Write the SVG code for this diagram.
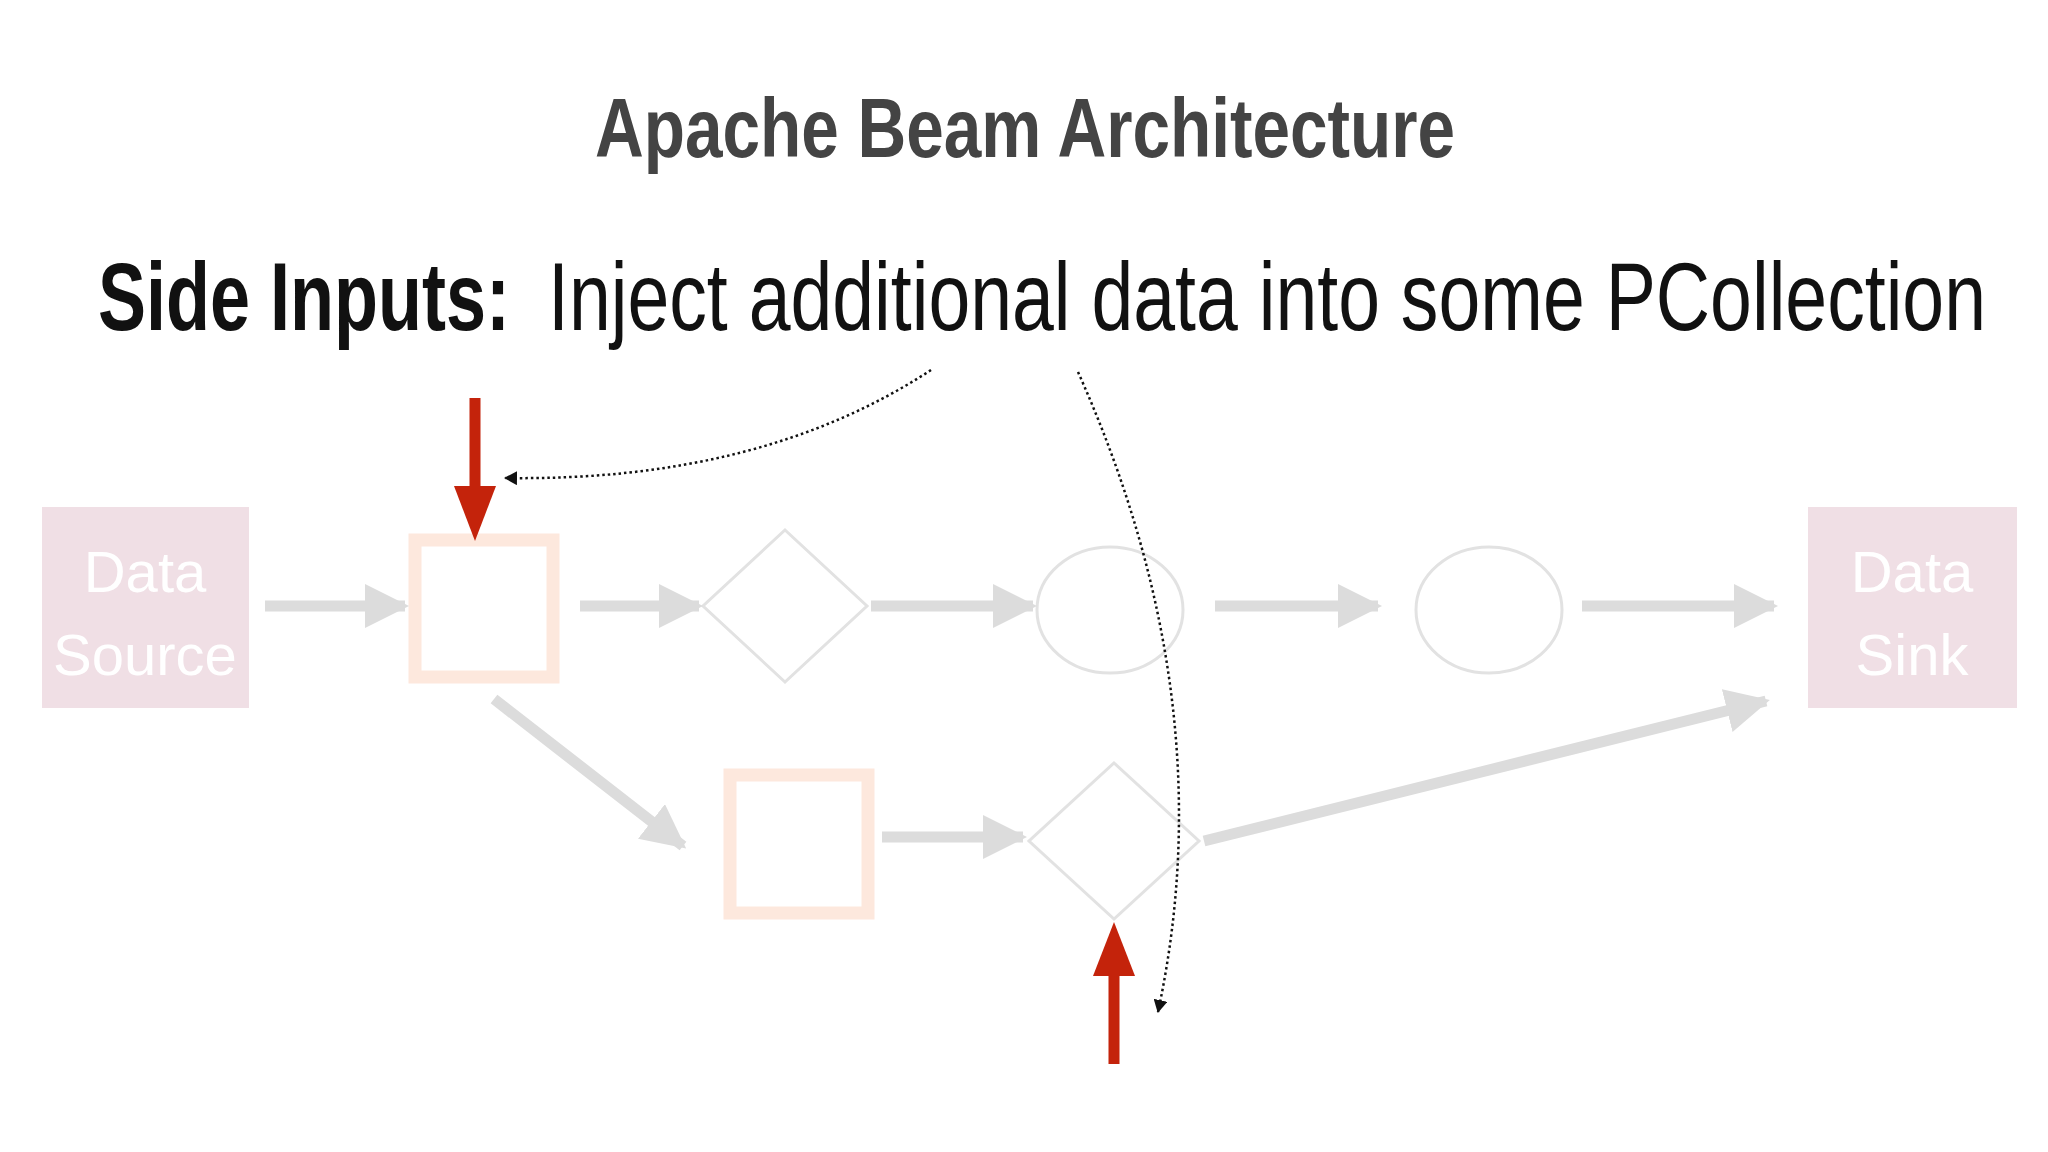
<svg xmlns="http://www.w3.org/2000/svg" width="2048" height="1152" viewBox="0 0 2048 1152">
<style>
.g{stroke:#dcdcdc;stroke-width:11;fill:none}
.sq{fill:#fff;stroke:#fde8dd;stroke-width:13}
.sh{fill:#fff;stroke:#e2e2e2;stroke-width:3}
.src{fill:#f0dfe5}
.lbl{font-family:"Liberation Sans Narrow","Liberation Sans",sans-serif;font-size:58px;fill:#fff;text-anchor:middle}
.dot{stroke:#111;stroke-width:2.5;stroke-dasharray:2.5 3;fill:none}
.red{stroke:#c4230b;stroke-width:11}
</style>
<defs>
<marker id="ga" markerUnits="userSpaceOnUse" markerWidth="46" markerHeight="44" refX="40" refY="22" orient="auto"><path d="M0,0 L44,22 L0,44 Z" fill="#dcdcdc"/></marker>
<marker id="ba" markerUnits="userSpaceOnUse" markerWidth="14" markerHeight="14" refX="12" refY="7" orient="auto"><path d="M0,0 L13,7 L0,14 Z" fill="#111"/></marker>
</defs>
<rect width="2048" height="1152" fill="#fff"/>
<text x="1025" y="157" font-family="Liberation Sans Narrow, Liberation Sans, sans-serif" font-weight="bold" font-size="84" fill="#444" text-anchor="middle" textLength="860" lengthAdjust="spacingAndGlyphs">Apache Beam Architecture</text>
<text x="98" y="330" font-family="Liberation Sans Narrow, Liberation Sans, sans-serif" font-size="96" font-weight="bold" fill="#111" textLength="412" lengthAdjust="spacingAndGlyphs">Side Inputs:</text>
<text x="548" y="330" font-family="Liberation Sans Narrow, Liberation Sans, sans-serif" font-size="96" fill="#111" textLength="1438" lengthAdjust="spacingAndGlyphs">Inject additional data into some PCollection</text>
<g id="source"><rect class="src" x="42" y="507" width="207" height="201"/><text class="lbl" x="145" y="592">Data</text><text class="lbl" x="145" y="675">Source</text></g>
<g id="sink"><rect class="src" x="1808" y="507" width="209" height="201"/><text class="lbl" x="1912" y="592">Data</text><text class="lbl" x="1912" y="675">Sink</text></g>
<g id="sq1"><rect class="sq" x="415" y="540" width="138" height="137"/></g>
<g id="d1"><polygon class="sh" points="785,530 867,606 785,682 703,606"/></g>
<g id="e1"><ellipse class="sh" cx="1110" cy="610" rx="73" ry="63"/></g>
<g id="e2"><ellipse class="sh" cx="1489" cy="610" rx="73" ry="63"/></g>
<g id="sq2"><rect class="sq" x="730" y="775" width="138" height="138"/></g>
<g id="d2"><polygon class="sh" points="1114,763 1199,841 1114,919 1029,841"/></g>
<g id="connectors">
<line class="g" x1="265" y1="606" x2="405" y2="606" marker-end="url(#ga)"/>
<line class="g" x1="580" y1="606" x2="699" y2="606" marker-end="url(#ga)"/>
<line class="g" x1="871" y1="606" x2="1033" y2="606" marker-end="url(#ga)"/>
<line class="g" x1="1215" y1="606" x2="1378" y2="606" marker-end="url(#ga)"/>
<line class="g" x1="1582" y1="606" x2="1774" y2="606" marker-end="url(#ga)"/>
<line class="g" x1="494" y1="699" x2="683" y2="846" marker-end="url(#ga)"/>
<line class="g" x1="882" y1="837" x2="1023" y2="837" marker-end="url(#ga)"/>
<line class="g" x1="1204" y1="841" x2="1766" y2="701" marker-end="url(#ga)"/>
<line class="red" x1="475" y1="398" x2="475" y2="490"/>
<path d="M454,486 L496,486 L475,541 Z" fill="#c4230b"/>
<line class="red" x1="1114" y1="1064" x2="1114" y2="972"/>
<path d="M1093,976 L1135,976 L1114,922 Z" fill="#c4230b"/>
<path class="dot" d="M931,370 Q760,482 505,478" marker-end="url(#ba)"/>
<path class="dot" d="M1078,372 Q1225,700 1158,1012" marker-end="url(#ba)"/>
</g>
</svg>
